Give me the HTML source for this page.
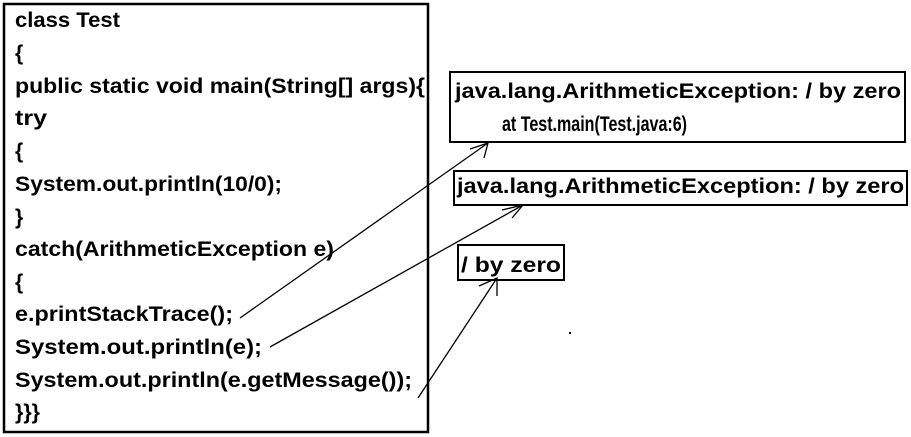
<!DOCTYPE html>
<html><head><meta charset="utf-8"><style>
html,body{margin:0;padding:0;background:#fff;}
svg{display:block;}
text{font-family:"Liberation Sans",sans-serif;font-weight:bold;font-size:21px;fill:#000;}
</style></head><body>
<svg width="911" height="437" viewBox="0 0 911 437" xmlns="http://www.w3.org/2000/svg">
<rect x="4" y="4" width="424" height="428" fill="none" stroke="#000" stroke-width="2.5"/>
<text x="15" y="27" textLength="105" lengthAdjust="spacingAndGlyphs">class Test</text>
<text x="15" y="60">{</text>
<text x="15" y="93" textLength="410" lengthAdjust="spacingAndGlyphs">public static void main(String[] args){</text>
<text x="15" y="125" textLength="32" lengthAdjust="spacingAndGlyphs">try</text>
<text x="15" y="158">{</text>
<text x="15" y="191" textLength="267" lengthAdjust="spacingAndGlyphs">System.out.println(10/0);</text>
<text x="15" y="224">}</text>
<text x="15" y="256" textLength="319" lengthAdjust="spacingAndGlyphs">catch(ArithmeticException e)</text>
<text x="15" y="289">{</text>
<text x="15" y="321" textLength="218" lengthAdjust="spacingAndGlyphs">e.printStackTrace();</text>
<text x="15" y="354" textLength="247" lengthAdjust="spacingAndGlyphs">System.out.println(e);</text>
<text x="15" y="387" textLength="397" lengthAdjust="spacingAndGlyphs">System.out.println(e.getMessage());</text>
<text x="15" y="419" textLength="25" lengthAdjust="spacingAndGlyphs">}}}</text>

<rect x="450" y="72" width="455" height="70" fill="none" stroke="#000" stroke-width="2"/>
<text x="455" y="98" textLength="446" lengthAdjust="spacingAndGlyphs">java.lang.ArithmeticException: / by zero</text>
<text x="502" y="131" textLength="185" lengthAdjust="spacingAndGlyphs">at Test.main(Test.java:6)</text>

<rect x="454" y="171" width="453" height="34" fill="none" stroke="#000" stroke-width="2"/>
<text x="457" y="193" textLength="447" lengthAdjust="spacingAndGlyphs">java.lang.ArithmeticException: / by zero</text>

<rect x="458" y="245" width="106" height="35" fill="none" stroke="#000" stroke-width="2"/>
<text x="461" y="272" textLength="100" lengthAdjust="spacingAndGlyphs">/ by zero</text>

<g stroke="#000" stroke-width="1.3" fill="none">
<path d="M240 318 L488 143"/>
<path d="M470 149 L488 143 L484 158"/>
<path d="M270 347 L523 205"/>
<path d="M502 210 L523 205 L512 218"/>
<path d="M418 398 L497 278"/>
<path d="M479 286 L497 278 L497 296"/>
</g>
<rect x="569" y="332" width="2" height="2" fill="#000"/>
</svg>
</body></html>
